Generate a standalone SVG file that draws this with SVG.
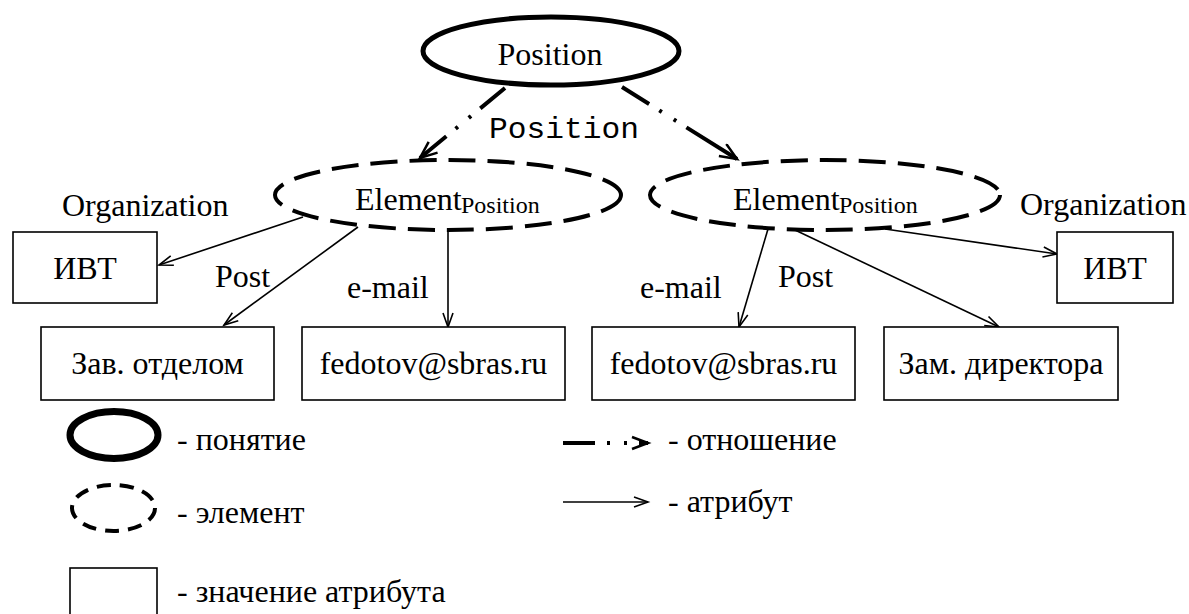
<svg xmlns="http://www.w3.org/2000/svg" width="1189" height="614" viewBox="0 0 1189 614">
<style>
.t{font-family:'Liberation Serif';font-size:32px;fill:#000}
.mono{font-family:'Liberation Mono';font-size:30px;fill:#000}
.sub{font-family:'Liberation Serif';font-size:24px;fill:#000}
.concept{fill:none;stroke:#000;stroke-width:5}
.elem{fill:none;stroke:#000;stroke-width:4;stroke-dasharray:27 12}
.val{fill:#fff;stroke:#000;stroke-width:1.6}
.attr{fill:none;stroke:#000;stroke-width:1.6;marker-end:url(#ah)}
.rel{fill:none;stroke:#000;stroke-width:4;marker-end:url(#rh)}
.mid{text-anchor:middle}
</style>
<defs>
<marker id="ah" markerUnits="userSpaceOnUse" markerWidth="18" markerHeight="14" refX="15" refY="6" orient="auto">
<path d="M1,1 L15,6 L1,11" fill="none" stroke="#000" stroke-width="1.6"/>
</marker>
<marker id="rh" markerUnits="userSpaceOnUse" markerWidth="22" markerHeight="18" refX="18" refY="8" orient="auto">
<path d="M1,1 L18,8 L1,15" fill="none" stroke="#000" stroke-width="2.5"/>
</marker>
</defs>
<rect width="1189" height="614" fill="#fff"/>

<g id="connectors">
<path class="rel" d="M505,88 L420,158" stroke-dasharray="32 12 3 14 3 12 80"/>
<path class="rel" d="M622,87 L737,159" stroke-dasharray="32 12 3 14 3 12 80"/>
<text class="mono" font-family="Liberation Mono" x="489" y="138" textLength="150" lengthAdjust="spacingAndGlyphs">Position</text>
<path class="attr" d="M303,217 L159,265"/>
<path class="attr" d="M358,227 L224,325"/>
<path class="attr" d="M448,232 L448,327"/>
<path class="attr" d="M768,229 L739,327"/>
<path class="attr" d="M795,230 L999,327"/>
<path class="attr" d="M885,229 L1057,254"/>
<text class="t" font-family="Liberation Serif" x="62" y="216">Organization</text>
<text class="t" font-family="Liberation Serif" x="215" y="287">Post</text>
<text class="t" font-family="Liberation Serif" x="347" y="298">e-mail</text>
<text class="t" font-family="Liberation Serif" x="640" y="298">e-mail</text>
<text class="t" font-family="Liberation Serif" x="778" y="287">Post</text>
<text class="t" font-family="Liberation Serif" x="1020" y="215">Organization</text>
</g>

<g id="concept-position">
<ellipse class="concept" cx="551" cy="51" rx="128" ry="34"/>
<text class="t mid" font-family="Liberation Serif" x="550" y="65">Position</text>
</g>

<g id="element-left">
<ellipse class="elem" cx="448" cy="195" rx="173" ry="35"/>
<text class="t" font-family="Liberation Serif" x="355" y="210">Element</text>
<text class="sub" font-family="Liberation Serif" x="461" y="213">Position</text>
</g>

<g id="element-right">
<ellipse class="elem" cx="825" cy="195" rx="175" ry="35"/>
<text class="t" font-family="Liberation Serif" x="733" y="210">Element</text>
<text class="sub" font-family="Liberation Serif" x="839" y="213">Position</text>
</g>

<g id="val-ivt-left">
<rect class="val" x="13" y="232" width="144" height="71"/>
<text class="t mid" font-family="Liberation Serif" x="85" y="279">ИВТ</text>
</g>

<g id="val-ivt-right">
<rect class="val" x="1057" y="232" width="116" height="71"/>
<text class="t mid" font-family="Liberation Serif" x="1115" y="279">ИВТ</text>
</g>

<g id="val-zav">
<rect class="val" x="41" y="327" width="233" height="73"/>
<text class="t mid" font-family="Liberation Serif" x="157.5" y="374">Зав. отделом</text>
</g>

<g id="val-email-left">
<rect class="val" x="302" y="327" width="263" height="73"/>
<text class="t mid" font-family="Liberation Serif" x="433.5" y="374">fedotov@sbras.ru</text>
</g>

<g id="val-email-right">
<rect class="val" x="592" y="327" width="263" height="73"/>
<text class="t mid" font-family="Liberation Serif" x="723.5" y="374">fedotov@sbras.ru</text>
</g>

<g id="val-zam">
<rect class="val" x="884" y="327" width="234" height="73"/>
<text class="t mid" font-family="Liberation Serif" x="1001" y="374">Зам. директора</text>
</g>

<g id="legend">
<ellipse cx="114" cy="435" rx="44" ry="23.5" fill="none" stroke="#000" stroke-width="7"/>
<text class="t" font-family="Liberation Serif" x="177" y="450">- понятие</text>
<ellipse cx="113.5" cy="508" rx="41.5" ry="23" fill="none" stroke="#000" stroke-width="4" stroke-dasharray="14 9"/>
<text class="t" font-family="Liberation Serif" x="177" y="523">- элемент</text>
<rect class="val" x="70" y="568" width="87" height="60"/>
<text class="t" font-family="Liberation Serif" x="177" y="602">- значение атрибута</text>
<path d="M563,443 L648,443" fill="none" stroke="#000" stroke-width="4" stroke-dasharray="32 12 3 14 3 12 80"/>
<path d="M632,437 L648,443 L632,449" fill="none" stroke="#000" stroke-width="2.5"/>
<text class="t" font-family="Liberation Serif" x="668" y="450">- отношение</text>
<path class="attr" d="M563,502 L648,502"/>
<text class="t" font-family="Liberation Serif" x="668" y="512">- атрибут</text>
</g>
</svg>
